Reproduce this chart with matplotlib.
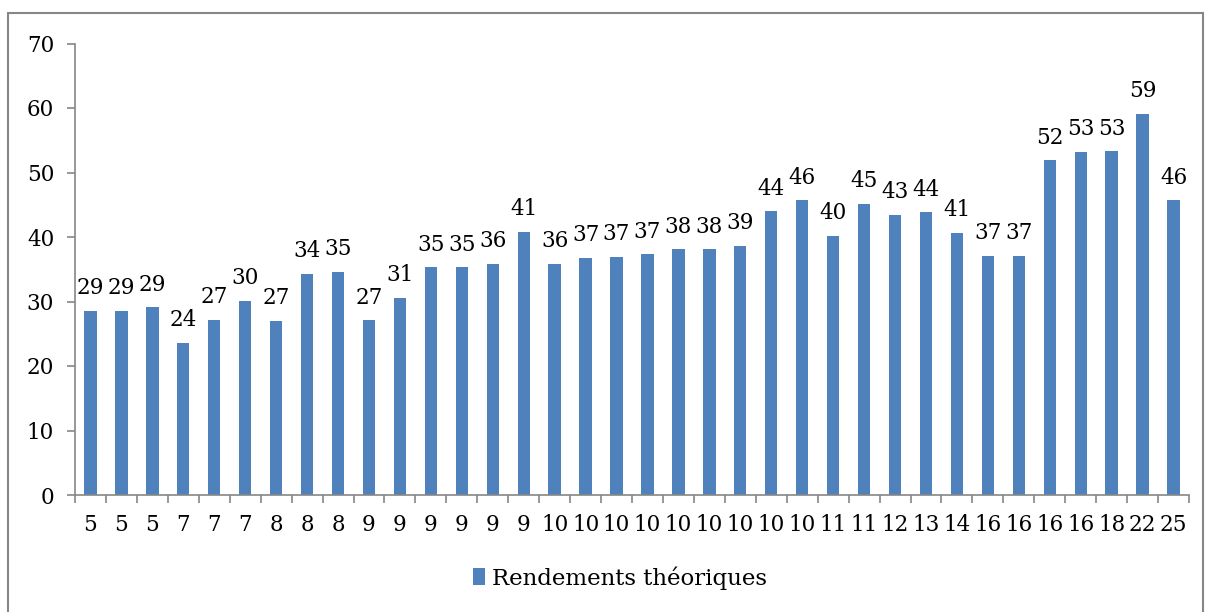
import matplotlib.pyplot as plt
from matplotlib.patches import Rectangle
import numpy as np

# Category labels (x axis) and theoretical yields
categories = ['5', '5', '5', '7', '7', '7', '8', '8', '8', '9', '9', '9',
              '9', '9', '9', '10', '10', '10', '10', '10', '10', '10', '10', '10',
              '11', '11', '12', '13', '14', '16', '16', '16', '16', '18', '22', '25']
rendements = [28.6, 28.6, 29.1, 23.6, 27.2, 30.1, 27.0, 34.3, 34.6, 27.1, 30.6, 35.3,
              35.3, 35.8, 40.8, 35.8, 36.8, 36.9, 37.3, 38.1, 38.1, 38.6, 44.0, 45.7,
              40.2, 45.1, 43.4, 43.8, 40.6, 37.1, 37.1, 51.9, 53.2, 53.3, 59.1, 45.7]
y_ticks = [0, 10, 20, 30, 40, 50, 60, 70]

BAR_COLOR = '#4F81BD'
AXIS_COLOR = '#868686'
W, H = 1208, 612
FS = 15.5

plt.rcParams['font.family'] = ['DejaVu Serif']

fig = plt.figure(figsize=(W / 100, H / 100), dpi=100)
ax = fig.add_axes([75 / W, 1 - 495 / H, (1189 - 75) / W, (495 - 43.5) / H])

x = np.arange(len(categories))
bars = ax.bar(x, rendements, width=0.4, color=BAR_COLOR, label='Rendements théoriques', zorder=2)

for xi, v in zip(x, rendements):
    ax.annotate(f'{v:.0f}', (xi, v), xytext=(0, 12), textcoords='offset points',
                ha='center', va='baseline', fontsize=FS, color='black')

ax.set_xlim(-0.5, len(categories) - 0.5)
ax.set_ylim(0, 70)
ax.set_yticks(y_ticks)
ax.set_xticks(x)
ax.set_xticklabels(categories)
ax.set_xticks(np.arange(-0.5, len(categories)), minor=True)
ax.tick_params(axis='x', which='major', length=0, pad=14, labelsize=FS)
ax.tick_params(axis='x', which='minor', length=6, color=AXIS_COLOR, width=1.2)
ax.tick_params(axis='y', length=6, color=AXIS_COLOR, width=1.2, labelsize=FS, pad=9)

for side in ['top', 'right']:
    ax.spines[side].set_visible(False)
for side in ['left', 'bottom']:
    ax.spines[side].set_color(AXIS_COLOR)
    ax.spines[side].set_linewidth(1.2)

leg = fig.legend(handles=[bars], labels=['Rendements théoriques'], loc='center',
                 bbox_to_anchor=(620 / W, 1 - 578 / H), frameon=False, fontsize=16.5,
                 handlelength=0.5, handleheight=0.75, handletextpad=0.3)

# grey frame around the chart area
fig.patches.append(Rectangle((8 / W, -0.02), (1203 - 8) / W, 1 - 13 / H + 0.02,
                             transform=fig.transFigure, fill=False,
                             edgecolor=AXIS_COLOR, linewidth=1.5))

fig.savefig('out.png', dpi=100)
